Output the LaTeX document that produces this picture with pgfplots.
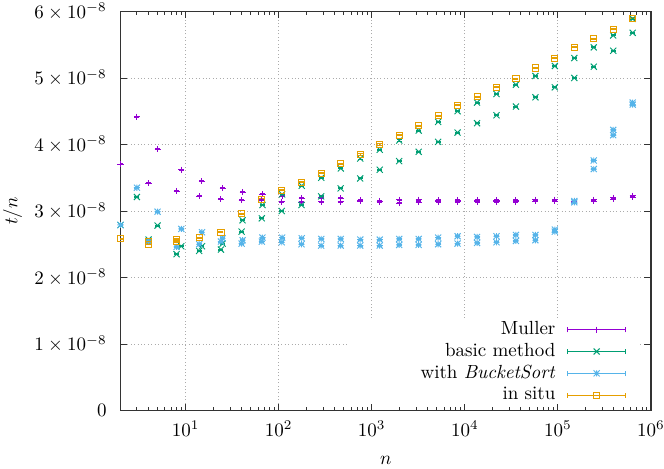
\documentclass[border=0pt]{standalone}
\usepackage{pgfplots}
\pgfplotsset{compat=1.18}
\definecolor{cM}{HTML}{9400D3}
\definecolor{cB}{HTML}{009E73}
\definecolor{cS}{HTML}{56B4E9}
\definecolor{cI}{HTML}{E69F00}
\pgfdeclareplotmark{gpx}{%
  \pgfpathmoveto{\pgfqpoint{-\pgfplotmarksize}{-\pgfplotmarksize}}%
  \pgfpathlineto{\pgfqpoint{\pgfplotmarksize}{\pgfplotmarksize}}%
  \pgfpathmoveto{\pgfqpoint{-\pgfplotmarksize}{\pgfplotmarksize}}%
  \pgfpathlineto{\pgfqpoint{\pgfplotmarksize}{-\pgfplotmarksize}}%
  \pgfusepathqstroke}
\pgfdeclareplotmark{gpstar}{%
  \pgfpathmoveto{\pgfqpoint{-\pgfplotmarksize}{0pt}}%
  \pgfpathlineto{\pgfqpoint{\pgfplotmarksize}{0pt}}%
  \pgfpathmoveto{\pgfqpoint{0pt}{-\pgfplotmarksize}}%
  \pgfpathlineto{\pgfqpoint{0pt}{\pgfplotmarksize}}%
  \pgfpathmoveto{\pgfqpoint{-\pgfplotmarksize}{-\pgfplotmarksize}}%
  \pgfpathlineto{\pgfqpoint{\pgfplotmarksize}{\pgfplotmarksize}}%
  \pgfpathmoveto{\pgfqpoint{-\pgfplotmarksize}{\pgfplotmarksize}}%
  \pgfpathlineto{\pgfqpoint{\pgfplotmarksize}{-\pgfplotmarksize}}%
  \pgfusepathqstroke}
\pgfplotsset{
  gpleg/.style 2 args={legend image code/.code={
    \draw[#1, line width=0.5pt, solid] (0pt,0pt) -- (30.5pt,0pt)
       (0pt,-1.4pt) -- (0pt,1.4pt) (30.5pt,-1.4pt) -- (30.5pt,1.4pt);
    \draw[#1, line width=0.5pt, solid] plot[mark=#2, mark size=1.6pt] coordinates {(15.25pt,0pt)};
  }},
  gpser/.style={only marks, mark size=1.6pt, line width=0.5pt,
    mark options={solid, line width=0.5pt},
    error bars/y dir=both, error bars/y fixed=0.8e-10,
    error bars/error bar style={line width=0.5pt},
    error bars/error mark options={line width=0.5pt, mark size=1.3pt, rotate=90}},
}
\begin{document}
\begin{tikzpicture}
\begin{axis}[
  name=ax,
  scale only axis,
  width=279.2pt, height=210pt,
  xmode=log, log basis x=10,
  xmin=2, xmax=1e6,
  ymin=0, ymax=6e-8,
  scaled y ticks=false,
  ytick={0,1e-8,2e-8,3e-8,4e-8,5e-8,6e-8},
  yticklabels={$0$,$1\times10^{-8}$,$2\times10^{-8}$,$3\times10^{-8}$,$4\times10^{-8}$,$5\times10^{-8}$,$6\times10^{-8}$},
  xtick={10,100,1000,10000,100000,1000000},
  xticklabels={$10^{1}$,$10^{2}$,$10^{3}$,$10^{4}$,$10^{5}$,$10^{6}$},
  minor xtick={2,3,4,5,6,7,8,9,20,30,40,50,60,70,80,90,200,300,400,500,600,700,800,900,2000,3000,4000,5000,6000,7000,8000,9000,20000,30000,40000,50000,60000,70000,80000,90000,200000,300000,400000,500000,600000,700000,800000,900000},
  yticklabel style={xshift=-3.8pt},
  xticklabel style={yshift=-2pt},
  tick align=inside,
  axis line style={black!80, line width=0.65pt},
  tick style={black!80, line width=0.5pt},
  major tick length=3.5pt, minor tick length=1.8pt,
  grid=major,
  grid style={black!33, line width=0.5pt, dash pattern=on 0.5pt off 1.3pt},
  xlabel={$n$}, ylabel={$t/n$},
  xlabel style={at={(axis description cs:0.5,-0.124)}, anchor=center},
  ylabel style={at={(axis description cs:-0.2034,0.5)}, anchor=center},
  legend cell align=right,
  legend plot pos=right,
  legend style={draw=none, fill=none, at={(rel axis cs:1,0.225)}, xshift=-12.9pt,
    anchor=north east, inner sep=0pt, row sep=2.5pt,
    nodes={inner sep=0pt, text height=7pt, text depth=2pt},
    /tikz/every odd column/.append style={column sep=6.2pt}},
]
\addplot+[gpser, color=cM, mark=+, gpleg={cM}{+}] table {
2 3.70e-8
3 4.42e-8
4 3.42e-8
5 3.93e-8
8 3.30e-8
9 3.62e-8
14 3.22e-8
15 3.45e-8
24 3.18e-8
25 3.34e-8
40 3.16e-8
41 3.28e-8
66 3.17e-8
67 3.25e-8
108 3.14e-8
109 3.22e-8
176 3.13e-8
177 3.19e-8
286 3.14e-8
287 3.20e-8
464 3.14e-8
465 3.19e-8
752 3.15e-8
753 3.16e-8
1218 3.14e-8
1219 3.15e-8
1972 3.12e-8
1973 3.17e-8
3192 3.13e-8
3193 3.17e-8
5166 3.14e-8
5167 3.16e-8
8360 3.14e-8
8361 3.16e-8
13528 3.14e-8
13529 3.16e-8
21890 3.14e-8
21891 3.16e-8
35420 3.14e-8
35421 3.16e-8
57312 3.15e-8
57313 3.17e-8
92734 3.15e-8
92735 3.17e-8
150048 3.13e-8
150049 3.15e-8
242784 3.15e-8
242785 3.17e-8
392834 3.18e-8
392835 3.20e-8
635620 3.21e-8
635621 3.23e-8
};
\addlegendentry{Muller}
\addplot+[gpser, color=cB, mark=gpx, gpleg={cB}{gpx}] table {
2 2.79e-8
3 3.21e-8
4 2.57e-8
5 2.78e-8
8 2.35e-8
9 2.47e-8
14 2.40e-8
15 2.47e-8
24 2.42e-8
25 2.51e-8
40 2.69e-8
41 2.86e-8
66 2.89e-8
67 3.09e-8
108 3.00e-8
109 3.25e-8
176 3.09e-8
177 3.38e-8
286 3.22e-8
287 3.50e-8
464 3.34e-8
465 3.64e-8
752 3.49e-8
753 3.79e-8
1218 3.62e-8
1219 3.92e-8
1972 3.75e-8
1973 4.06e-8
3192 3.89e-8
3193 4.21e-8
5166 4.04e-8
5167 4.34e-8
8360 4.18e-8
8361 4.50e-8
13528 4.32e-8
13529 4.63e-8
21890 4.44e-8
21891 4.76e-8
35420 4.57e-8
35421 4.90e-8
57312 4.71e-8
57313 5.03e-8
92734 4.86e-8
92735 5.18e-8
150048 5.00e-8
150049 5.30e-8
242784 5.17e-8
242785 5.46e-8
392834 5.41e-8
392835 5.64e-8
635620 5.68e-8
635621 5.89e-8
};
\addlegendentry{basic method}
\addplot+[gpser, color=cS, mark=gpstar, gpleg={cS}{gpstar}] table {
2 2.79e-8
3 3.35e-8
4 2.55e-8
5 2.99e-8
8 2.46e-8
9 2.73e-8
14 2.50e-8
15 2.68e-8
24 2.54e-8
25 2.59e-8
40 2.51e-8
41 2.56e-8
66 2.54e-8
67 2.60e-8
108 2.53e-8
109 2.60e-8
176 2.50e-8
177 2.59e-8
286 2.48e-8
287 2.58e-8
464 2.48e-8
465 2.58e-8
752 2.48e-8
753 2.57e-8
1218 2.48e-8
1219 2.57e-8
1972 2.49e-8
1973 2.58e-8
3192 2.49e-8
3193 2.58e-8
5166 2.50e-8
5167 2.60e-8
8360 2.51e-8
8361 2.62e-8
13528 2.52e-8
13529 2.61e-8
21890 2.53e-8
21891 2.62e-8
35420 2.55e-8
35421 2.64e-8
57312 2.56e-8
57313 2.64e-8
92734 2.69e-8
92735 2.72e-8
150048 3.13e-8
150049 3.15e-8
242784 3.63e-8
242785 3.76e-8
392834 4.14e-8
392835 4.22e-8
635620 4.60e-8
635621 4.63e-8
};
\addlegendentry{with \textit{BucketSort}}
\addplot+[gpser, color=cI, mark=square, gpleg={cI}{square}] table {
2 2.58e-8
4 2.54e-8
4 2.50e-8
8 2.57e-8
8 2.54e-8
14 2.60e-8
24 2.68e-8
40 2.96e-8
66 3.18e-8
108 3.31e-8
176 3.43e-8
286 3.57e-8
464 3.71e-8
752 3.85e-8
1218 4.00e-8
1972 4.14e-8
3192 4.28e-8
5166 4.43e-8
8360 4.59e-8
13528 4.72e-8
21890 4.86e-8
35420 4.99e-8
57312 5.15e-8
92734 5.30e-8
150048 5.46e-8
242784 5.59e-8
392834 5.73e-8
635620 5.90e-8
};
\addlegendentry{in situ}
\fill[white] (rel axis cs:0.4307,0.0172) rectangle (rel axis cs:0.9793,0.2318);
\end{axis}
\pgfresetboundingbox
\path ([shift={(-63.42pt,-30.79pt)}]ax.south west) rectangle ([shift={(6.84pt,6.05pt)}]ax.north east);
\end{tikzpicture}
\end{document}
